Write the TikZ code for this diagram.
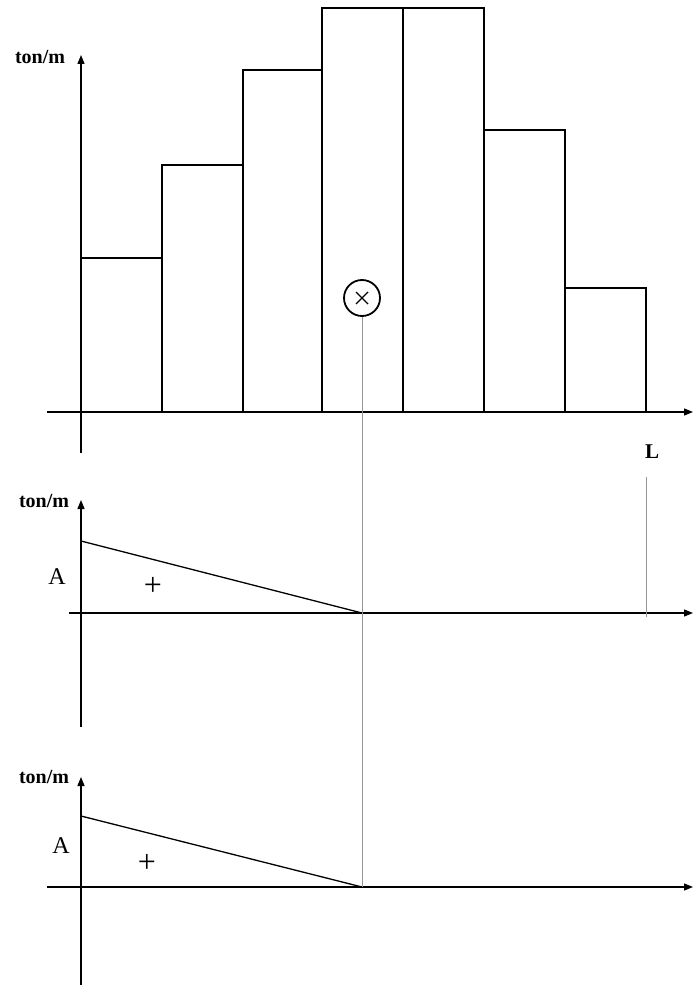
\documentclass[tikz,border=0pt]{standalone}
\usepackage{fontspec}
\setmainfont{Liberation Serif}
\usetikzlibrary{arrows.meta}
\definecolor{guidegray}{RGB}{150,150,150}
\begin{document}
\begin{tikzpicture}[x=1pt,y=-1pt,
  axis/.style={line width=1.3pt,-{Triangle[length=9pt,width=7pt]}},
  plain/.style={line width=1.3pt},
  guide/.style={line width=1pt,draw=guidegray},
  unitlbl/.style={font=\bfseries\fontsize{20}{20}\selectfont,inner sep=0pt},
  biglbl/.style={font=\fontsize{24}{24}\selectfont,inner sep=0pt},
  pluslbl/.style={font=\fontsize{32}{32}\selectfont,inner sep=0pt},
  Llbl/.style={font=\bfseries\fontsize{21}{21}\selectfont,inner sep=0pt},
  secmark/.style={circle,draw,line width=1.8pt,minimum size=36pt,inner sep=0pt,
    path picture={\draw[line width=1.4pt] ([shift={(-6pt,-6pt)}]path picture bounding box.center) -- ([shift={(6pt,6pt)}]path picture bounding box.center)
      ([shift={(-6pt,6pt)}]path picture bounding box.center) -- ([shift={(6pt,-6pt)}]path picture bounding box.center);}}
]
\useasboundingbox (0,0) rectangle (693,987);

% ---------- top diagram ----------
\coordinate (y1b) at (81,453);
\coordinate (y1t) at (81,55);
\coordinate (x1l) at (47,412);
\coordinate (x1r) at (693,412);
\draw[axis] (y1b) -- (y1t);
\draw[axis] (x1l) -- (x1r);
\node[unitlbl] (u1) at (40,57) {ton/m};

\draw[plain] (81,412) rectangle (162,258);
\draw[plain] (162,412) rectangle (243,165);
\draw[plain] (243,412) rectangle (322,70);
\draw[plain] (322,412) rectangle (403,8);
\draw[plain] (403,412) rectangle (484,8);
\draw[plain] (484,412) rectangle (565,130);
\draw[plain] (565,412) rectangle (646,288);

\node[secmark] (sec) at (362,298) {};
\node[Llbl] (L) at (652,452) {L};

% ---------- middle diagram ----------
\coordinate (y2b) at (81,727);
\coordinate (y2t) at (81,500);
\coordinate (x2l) at (69,613);
\coordinate (x2r) at (693,613);
\draw[axis] (y2b) -- (y2t);
\draw[axis] (x2l) -- (x2r);
\node[unitlbl] (u2) at (44,501) {ton/m};
\node[biglbl] (A2) at (57,577) {A};
\node[pluslbl] (p2) at (153,586) {+};
\coordinate (s2a) at (81,541);
\coordinate (s2b) at (362,613);
\draw[plain] (s2a) -- (s2b);

% ---------- bottom diagram ----------
\coordinate (y3b) at (81,985);
\coordinate (y3t) at (81,777);
\coordinate (x3l) at (47,887);
\coordinate (x3r) at (693,887);
\draw[axis] (y3b) -- (y3t);
\draw[axis] (x3l) -- (x3r);
\node[unitlbl] (u3) at (44,777) {ton/m};
\node[biglbl] (A3) at (61,846) {A};
\node[pluslbl] (p3) at (147,863) {+};
\coordinate (s3a) at (81,816);
\coordinate (s3b) at (362,887);
\draw[plain] (s3a) -- (s3b);

% ---------- guide lines ----------
\coordinate (g1) at (362,887);
\draw[guide] (sec.south) -- (g1);
\coordinate (gL1) at (646,477);
\coordinate (gL2) at (646,617);
\draw[guide] (gL1) -- (gL2);
\end{tikzpicture}
\end{document}
